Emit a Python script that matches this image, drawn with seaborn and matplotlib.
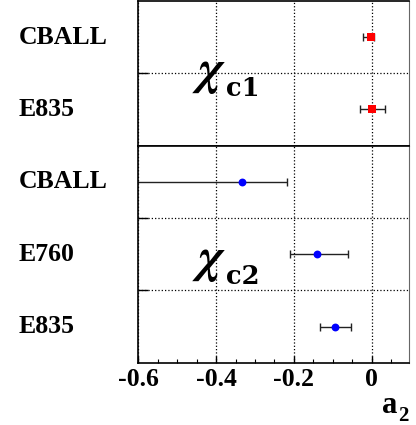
import matplotlib
matplotlib.use("Agg")
from matplotlib import pyplot as plt
from matplotlib import transforms
import seaborn as sns
import pandas as pd

# chi_c1 measurements of a2
c1_exp = ["CBALL", "E835"]
c1_val = [-0.002, 0.002]
c1_lo = [0.020, 0.032]
c1_hi = [0.008, 0.032]

# chi_c2 measurements of a2
c2_exp = ["CBALL", "E760", "E835"]
c2_val = [-0.333, -0.140, -0.093]
c2_lo = [0.292, 0.071, 0.041]
c2_hi = [0.116, 0.079, 0.039]

x_ticks = [-0.6, -0.4, -0.2, 0.0]
x_ticklabels = ["-0.6", "-0.4", "-0.2", "0"]

W, H = 416, 425

sns.set_style("ticks")
plt.rcParams['font.family'] = ['Liberation Serif', 'DejaVu Serif']
plt.rcParams['font.weight'] = 'bold'
plt.rcParams['mathtext.fontset'] = 'stix'
plt.rcParams['axes.unicode_minus'] = False
for k in ['text.color', 'axes.labelcolor', 'xtick.color', 'ytick.color', 'axes.edgecolor']:
    plt.rcParams[k] = 'black'

fig, (ax1, ax2) = plt.subplots(2, 1, figsize=(W / 100, H / 100), dpi=100,
                               gridspec_kw={'height_ratios': [2, 3], 'hspace': 0})
fig.subplots_adjust(left=0.3325, right=0.984, top=0.998, bottom=0.1466)


def px(x, y):
    # pixel position (from top left) -> figure fraction
    return x / W, 1 - y / H


df1 = pd.DataFrame({'exp': c1_exp, 'a2': c1_val, 'row': [i + 0.5 for i in range(len(c1_exp))]})
df2 = pd.DataFrame({'exp': c2_exp, 'a2': c2_val, 'row': [i + 0.5 for i in range(len(c2_exp))]})

panels = [
    (ax1, df1, c1_lo, c1_hi, 's', '#ff0000', 38, 'c1', 84),
    (ax2, df2, c2_lo, c2_hi, 'o', '#0000ff', 32, 'c2', 272),
]

for ax, df, lo, hi, mk, col, sz, sub, base in panels:
    n = len(df)
    ax.errorbar(df['a2'], df['row'], xerr=[lo, hi], fmt='none', ecolor='#222222',
                elinewidth=1, capsize=3, capthick=1, zorder=2)
    sns.scatterplot(data=df, x='a2', y='row', marker=mk, color=col, s=sz,
                    edgecolor=col, linewidth=0, ax=ax, zorder=3, legend=False)
    ax.set_xlim(-0.6, 0.097)
    ax.set_ylim(n, 0)
    ax.set_xticks(x_ticks)
    ax.set_yticks(range(1, n))
    ax.set_yticklabels([])
    ax.grid(True, linestyle=':', color='black', linewidth=0.9)
    ax.set_xlabel('')
    ax.set_ylabel('')
    ax.tick_params(axis='y', direction='in', length=7, width=1)
    for side in ['left', 'top', 'bottom']:
        ax.spines[side].set_linewidth(1.2)
    ax.spines['right'].set_linewidth(0.8)
    ax.spines['right'].set_color('#666666')
    # experiment labels on the left
    tr = transforms.blended_transform_factory(fig.transFigure, ax.transData)
    for e, r in zip(df['exp'], df['row']):
        fig.text(0.044, r, e, transform=tr, ha='left', va='center',
                 fontsize=18.5, fontweight='bold')
    # chi_cJ label: big chi plus bold subscript
    fig.text(*px(192, base), r'$\chi$', ha='left', va='baseline', fontsize=36)
    fig.text(*px(226, base + 12), sub, ha='left', va='baseline',
             fontsize=18.5, fontweight='bold', family='DejaVu Serif')

ax1.tick_params(axis='x', length=0, labelbottom=False)
ax2.set_xticks([-0.55, -0.5, -0.45, -0.35, -0.3, -0.25, -0.15, -0.1, -0.05, 0.05], minor=True)
ax2.tick_params(axis='x', which='major', direction='in', length=5, width=1, pad=4)
ax2.tick_params(axis='x', which='minor', direction='in', length=3, width=0.8)
ax2.set_xticklabels(x_ticklabels, fontsize=18.5, fontweight='bold')

fig.text(*px(382, 413), 'a', ha='left', va='baseline', fontsize=22, fontweight='bold')
fig.text(*px(398, 421), '2', ha='left', va='baseline', fontsize=15, fontweight='bold')

fig.savefig('out.png', dpi=100)
